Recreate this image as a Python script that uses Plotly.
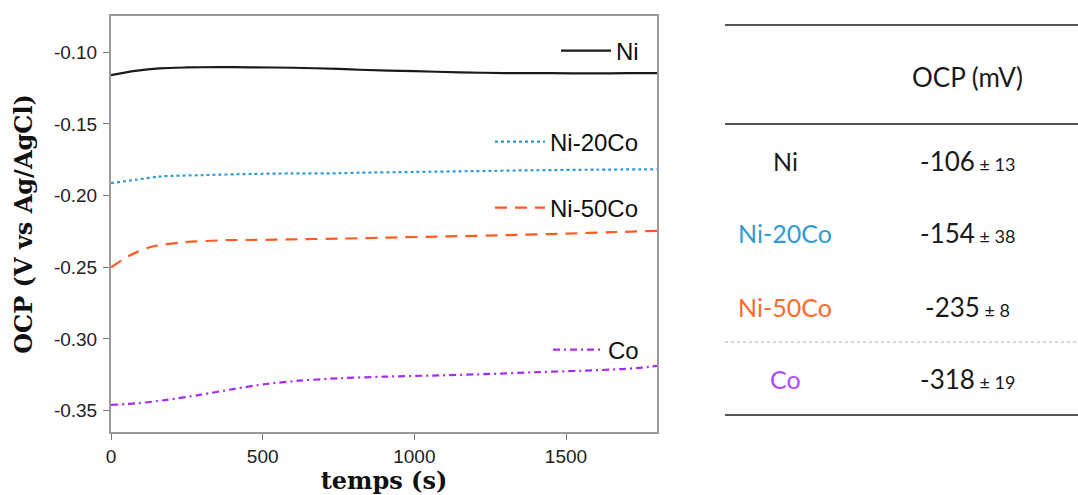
import plotly.graph_objects as go

# ---------------- data ----------------
series_names = ["Ni", "Ni-20Co", "Ni-50Co", "Co"]

t_ni = [0, 80, 160, 250, 350, 460, 600, 750, 820, 1000, 1150, 1300, 1450, 1600, 1700, 1800]
ocp_ni = [-0.1160, -0.1130, -0.1112, -0.1106, -0.1104, -0.1105, -0.1108, -0.1116, -0.1122, -0.1132, -0.1140, -0.1145, -0.1146, -0.1147, -0.1146, -0.1146]

t_20 = [0, 80, 160, 300, 460, 600, 750, 820, 1000, 1200, 1400, 1600, 1800]
ocp_20 = [-0.1913, -0.1890, -0.1867, -0.1857, -0.1849, -0.1845, -0.1844, -0.1840, -0.1835, -0.1829, -0.1823, -0.1819, -0.1816]

t_50 = [0, 60, 128, 227, 381, 480, 600, 753, 900, 1100, 1303, 1500, 1650, 1800]
ocp_50 = [-0.2500, -0.2420, -0.2360, -0.2328, -0.2311, -0.2309, -0.2305, -0.2300, -0.2293, -0.2285, -0.2276, -0.2265, -0.2255, -0.2246]

t_co = [0, 90, 183, 293, 402, 512, 622, 753, 900, 1082, 1250, 1411, 1550, 1684, 1750, 1800]
ocp_co = [-0.3460, -0.3448, -0.3425, -0.3390, -0.3350, -0.3314, -0.3291, -0.3274, -0.3263, -0.3254, -0.3244, -0.3231, -0.3222, -0.3210, -0.3200, -0.3187]

line_colors = ["#1a1a1a", "#2e9bd8", "#ff5a1f", "#a62cf5"]
label_colors = ["#1a1a1a", "#3399d6", "#ff6a2a", "#b04af5"]
line_dashes = ["solid", "3px,3px", "12px,8px", "7px,4px,2px,4px"]

x_ticks = [0, 500, 1000, 1500]
y_ticks = [-0.10, -0.15, -0.20, -0.25, -0.30, -0.35]
y_tick_text = ["-0.10", "-0.15", "-0.20", "-0.25", "-0.30", "-0.35"]

table_header = "OCP (mV)"
table_mean = [-106, -154, -235, -318]
table_err = [13, 38, 8, 19]

# ---------------- figure ----------------
fig = go.Figure()
all_t = [t_ni, t_20, t_50, t_co]
all_v = [ocp_ni, ocp_20, ocp_50, ocp_co]
legend_ids = ["legend", "legend2", "legend3", "legend4"]
for i, name in enumerate(series_names):
    fig.add_trace(go.Scatter(
        x=all_t[i], y=all_v[i], mode="lines", name=name,
        line=dict(color=line_colors[i], width=2.2, dash=line_dashes[i], shape="spline", smoothing=0.8),
        legend=legend_ids[i], showlegend=True,
    ))

W, H = 1078, 495
L, R, T, B = 111, 1078 - 657, 16, 495 - 432
pw, ph = W - L - R, H - T - B

def px_x(x):
    return (x - L) / pw

def px_y(y):
    return (H - B - y) / ph

frame_col = "#9a9a9a"
tick_font = dict(family="Liberation Sans, Arial", size=19, color="#222")
axis_title_font = dict(family="DejaVu Serif", size=24, color="#111")

fig.update_layout(
    width=W, height=H,
    margin=dict(l=L, r=R, t=T, b=B, autoexpand=False),
    paper_bgcolor="white", plot_bgcolor="white",
    xaxis=dict(range=[0, 1800], tickvals=x_ticks, ticks="outside", ticklen=6, tickcolor="#777",
               showline=True, linecolor=frame_col, linewidth=2, mirror=True, showgrid=False,
               zeroline=False, tickfont=tick_font, automargin=False,
               title=dict(text="<b>temps (s)</b>", font=axis_title_font, standoff=13)),
    yaxis=dict(range=[-0.3649, -0.0747], tickvals=y_ticks, ticktext=y_tick_text, ticks="outside",
               ticklen=6, tickcolor="#777", showline=True, linecolor=frame_col, linewidth=2,
               mirror=True, showgrid=False, zeroline=False, tickfont=tick_font, ticklabelstandoff=2,
               automargin=False,
               title=dict(text="<b>OCP (V vs Ag/AgCl)</b>", font=axis_title_font, standoff=14)),
    xaxis2=dict(range=[0, 1800], tickvals=x_ticks, ticks="inside", ticklen=6, tickcolor="#777",
                showticklabels=False, overlaying="x", anchor="y", showgrid=False, zeroline=False,
                showline=False, automargin=False),
    yaxis2=dict(range=[-0.3649, -0.0747], tickvals=y_ticks, ticks="inside", ticklen=6, tickcolor="#777",
                showticklabels=False, overlaying="y", anchor="x", side="left", showgrid=False,
                zeroline=False, showline=False, automargin=False),
)

legend_y_px = [51, 142, 208, 350]
for i, lid in enumerate(legend_ids):
    fig.layout[lid] = dict(
        x=px_x(644), y=px_y(legend_y_px[i]), xanchor="right", yanchor="middle",
        bgcolor="rgba(0,0,0,0)", borderwidth=0, itemwidth=50,
        font=dict(family="Liberation Sans, Arial", size=24, color="#111"),
    )

# ---------------- table ----------------
tab_left, tab_right = 725, 1078
line_main = "#555"
for y_px, col, dash, wdt in [(25, line_main, "solid", 2), (124, line_main, "solid", 2),
                             (342, "#c8c8c8", "dot", 1.5), (415, line_main, "solid", 2)]:
    fig.add_shape(type="line", xref="paper", yref="paper",
                  x0=px_x(tab_left), x1=px_x(tab_right), y0=px_y(y_px), y1=px_y(y_px),
                  line=dict(color=col, width=wdt, dash=dash))

tab_font = "Lato, Open Sans, sans-serif"
fig.add_annotation(xref="paper", yref="paper", x=px_x(967), y=px_y(77), text=table_header,
                   showarrow=False, xanchor="center", yanchor="middle",
                   font=dict(family=tab_font, size=26, color="#1a1a1a"))
row_y = [161, 233, 307, 379]
for i, name in enumerate(series_names):
    fig.add_annotation(xref="paper", yref="paper", x=px_x(785), y=px_y(row_y[i]), text=name,
                       showarrow=False, xanchor="center", yanchor="middle",
                       font=dict(family=tab_font, size=25, color=label_colors[i]))
    fig.add_annotation(xref="paper", yref="paper", x=px_x(967), y=px_y(row_y[i]),
                       text=f"{table_mean[i]}<span style='font-size:18px'> ± {table_err[i]}</span>",
                       showarrow=False, xanchor="center", yanchor="middle",
                       font=dict(family=tab_font, size=26, color="#1a1a1a"))

fig.write_html("out.html", config={"displayModeBar": False},
               post_script="document.body.style.margin='0';")
